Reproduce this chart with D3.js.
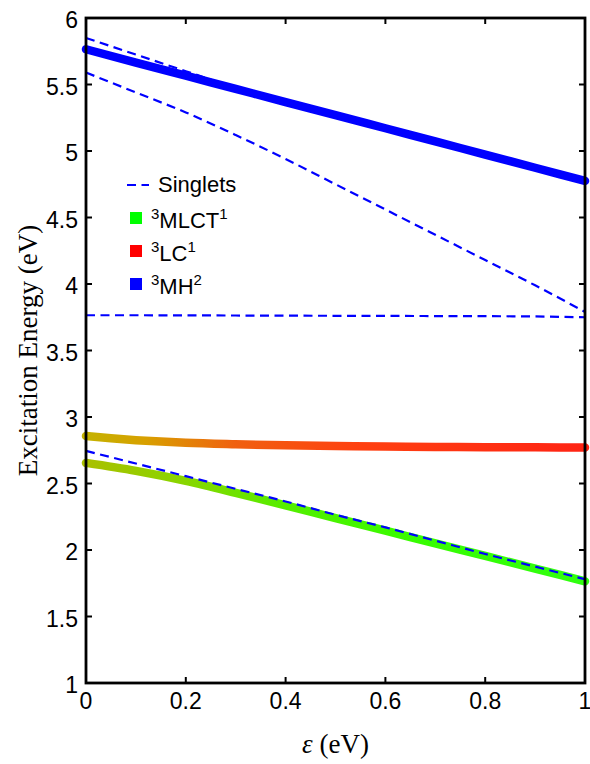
<!DOCTYPE html>
<html>
<head>
<meta charset="utf-8">
<script src="https://cdn.jsdelivr.net/npm/d3@7/dist/d3.min.js"></script>
<style>
  body { margin: 0; background: #fff; }
  svg text { font-family: "Liberation Sans", Arial, sans-serif; }
</style>
</head>
<body>
<svg id="chart" width="590" height="764"></svg>
<script>
// data
const eps = [0, 0.1, 0.2, 0.3, 0.4, 0.5, 0.6, 0.7, 0.8, 0.9, 1];
const singletA = [5.85, 5.725, 5.60, 5.475, 5.37, 5.275, 5.175, 5.075, 4.975, 4.875, 4.775];
const singletB = [5.59, 5.44, 5.29, 5.12, 4.94, 4.75, 4.56, 4.37, 4.18, 3.99, 3.79];
const singletC = [3.765, 3.765, 3.764, 3.763, 3.762, 3.761, 3.760, 3.759, 3.758, 3.756, 3.75];
const singletD = [2.745, 2.65, 2.555, 2.46, 2.365, 2.265, 2.17, 2.07, 1.97, 1.875, 1.78];
const mlct = [2.655, 2.595, 2.52, 2.43, 2.335, 2.24, 2.145, 2.05, 1.955, 1.86, 1.765];
const lcEps = [0, 0.05, 0.1, 0.15, 0.2, 0.3, 0.4, 0.5, 0.6, 0.7, 0.8, 0.9, 1];
const lc = [2.857, 2.84, 2.826, 2.815, 2.806, 2.795, 2.787, 2.782, 2.778, 2.775, 2.773, 2.772, 2.771];
const mh = [5.765, 5.665, 5.566, 5.467, 5.368, 5.27, 5.171, 5.072, 4.973, 4.874, 4.775];

const xTicks = [0, 0.2, 0.4, 0.6, 0.8, 1];
const yTicks = [1, 1.5, 2, 2.5, 3, 3.5, 4, 4.5, 5, 5.5, 6];

const legendItems = [
  {type: "dash", color: "#0000ff", label: "Singlets"},
  {type: "box", color: "#00ff00", pre: "3", main: "MLCT", sup: "1"},
  {type: "box", color: "#ff0000", pre: "3", main: "LC", sup: "1"},
  {type: "box", color: "#0000ff", pre: "3", main: "MH", sup: "2"}
];

const margin = {top: 18, right: 5, bottom: 81, left: 86},
  width = 590 - margin.left - margin.right,
  height = 764 - margin.top - margin.bottom;

const svg = d3.select("#chart");
const g = svg.append("g").attr("transform", `translate(${margin.left},${margin.top})`);

const x = d3.scaleLinear().domain([0, 1]).range([0, width]);
const y = d3.scaleLinear().domain([1, 6]).range([height, 0]);

// gradients for the mixed-character triplets
const defs = svg.append("defs");
function addGrad(id, stops) {
  const gr = defs.append("linearGradient")
    .attr("id", id)
    .attr("gradientUnits", "userSpaceOnUse")
    .attr("x1", x(0)).attr("x2", x(1)).attr("y1", 0).attr("y2", 0);
  stops.forEach(s => gr.append("stop").attr("offset", s[0]).attr("stop-color", s[1]));
}
addGrad("gradLC", [[0, "#c4b200"], [0.12, "#d8a000"], [0.3, "#f06010"], [0.55, "#ff4010"], [1, "#ff2414"]]);
addGrad("gradMLCT", [[0, "#aac000"], [0.2, "#88d600"], [0.4, "#55ee00"], [0.65, "#38fc00"], [1, "#30ff10"]]);

const line = d3.line().x(d => x(d[0])).y(d => y(d[1])).curve(d3.curveMonotoneX);
const zipX = (xs, ys) => xs.map((v, i) => [v, ys[i]]);

// thick triplet curves
g.append("path").attr("d", line(zipX(lcEps, lc)))
  .attr("fill", "none").attr("stroke", "url(#gradLC)").attr("stroke-width", 8.5)
  .attr("stroke-linecap", "round");
g.append("path").attr("d", line(zipX(eps, mlct)))
  .attr("fill", "none").attr("stroke", "url(#gradMLCT)").attr("stroke-width", 8.5)
  .attr("stroke-linecap", "round");
g.append("path").attr("d", line(zipX(eps, mh)))
  .attr("fill", "none").attr("stroke", "#0000ff").attr("stroke-width", 8.5)
  .attr("stroke-linecap", "round");

// singlets, dashed
[singletA, singletB, singletC, singletD].forEach(s => {
  g.append("path").attr("d", line(zipX(eps, s)))
    .attr("fill", "none").attr("stroke", "#0000ff").attr("stroke-width", 2.2)
    .attr("stroke-dasharray", "9,5.5");
});

// frame and ticks (inward, MATLAB style)
const tickLen = 6;
const axisG = g.append("g").attr("stroke", "#000").attr("stroke-width", 2);
xTicks.forEach(t => {
  axisG.append("line").attr("x1", x(t)).attr("x2", x(t)).attr("y1", height).attr("y2", height - tickLen);
  axisG.append("line").attr("x1", x(t)).attr("x2", x(t)).attr("y1", 0).attr("y2", tickLen);
});
yTicks.forEach(t => {
  axisG.append("line").attr("x1", 0).attr("x2", tickLen).attr("y1", y(t)).attr("y2", y(t));
  axisG.append("line").attr("x1", width).attr("x2", width - tickLen).attr("y1", y(t)).attr("y2", y(t));
});
g.append("rect").attr("x", 0).attr("y", 0).attr("width", width).attr("height", height)
  .attr("fill", "none").attr("stroke", "#000").attr("stroke-width", 2.8);

// tick labels
g.selectAll(".xl").data(xTicks).join("text")
  .attr("x", d => x(d)).attr("y", height + 26)
  .attr("text-anchor", "middle").style("font-size", "23px")
  .text(d => d);
g.selectAll(".yl").data(yTicks).join("text")
  .attr("x", -8).attr("y", d => y(d) + 10)
  .attr("text-anchor", "end").style("font-size", "23px")
  .text(d => d);

// axis titles
svg.append("text")
  .attr("transform", `translate(37,${margin.top + height / 2}) rotate(-90)`)
  .attr("text-anchor", "middle")
  .style("font-family", "'Liberation Serif', serif").style("font-size", "27px")
  .text("Excitation Energy (eV)");
const xt = svg.append("text")
  .attr("x", margin.left + width / 2).attr("y", 753)
  .attr("text-anchor", "middle")
  .style("font-family", "'Liberation Serif', serif").style("font-size", "27px");
xt.append("tspan").style("font-style", "italic").text("ε");
xt.append("tspan").text(" (eV)");

// legend
const lg = svg.append("g");
const rowY = [192, 228, 261, 294];
legendItems.forEach((it, i) => {
  const by = rowY[i];
  if (it.type === "dash") {
    lg.append("line").attr("x1", 127).attr("x2", 149).attr("y1", by - 7).attr("y2", by - 7)
      .attr("stroke", it.color).attr("stroke-width", 2.2).attr("stroke-dasharray", "9,5.5");
    lg.append("text").attr("x", 158).attr("y", by).style("font-size", "22px").text(it.label);
  } else {
    lg.append("rect").attr("x", 130).attr("y", by - 16).attr("width", 12).attr("height", 12)
      .attr("fill", it.color);
    const t = lg.append("text").attr("x", 151).attr("y", by).style("font-size", "22px");
    t.append("tspan").attr("dy", -9).style("font-size", "15px").text(it.pre);
    t.append("tspan").attr("dy", 9).text(it.main);
    t.append("tspan").attr("dy", -9).style("font-size", "15px").text(it.sup);
  }
});
</script>
</body>
</html>
